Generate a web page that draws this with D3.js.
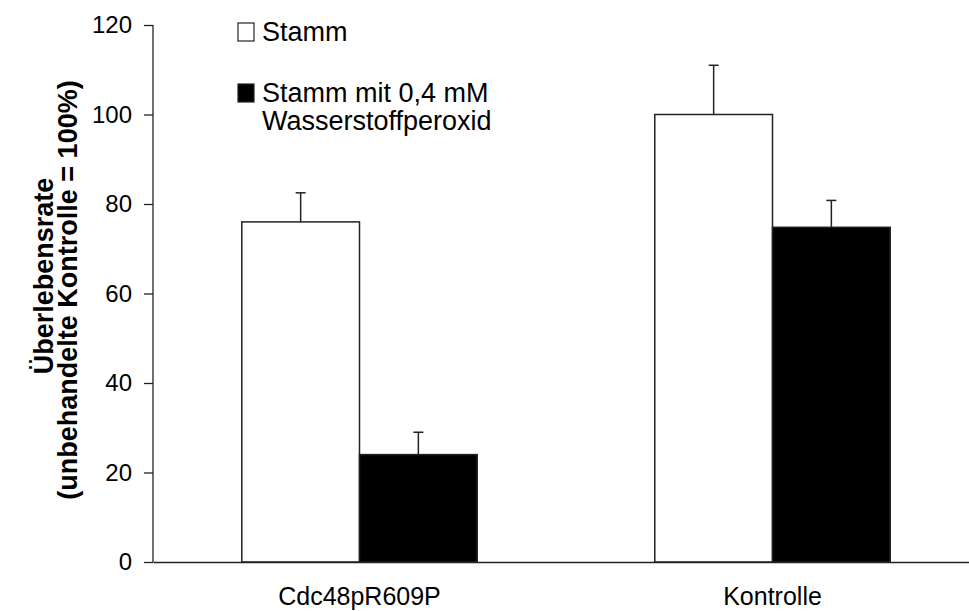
<!DOCTYPE html>
<html>
<head>
<meta charset="utf-8">
<script src="https://cdn.jsdelivr.net/npm/d3@7"></script>
<style>
    body { margin: 0; background: #fff; }
    text { font-family: Arial, "Liberation Sans", sans-serif; fill: #000; }
</style>
</head>
<body>
<div id="chart"></div>
<script>
// Daten
const categories = ["Cdc48pR609P", "Kontrolle"];
const seriesNames = ["Stamm", "Stamm mit 0,4 mM\nWasserstoffperoxid"];
const stammValues = [76, 100];
const stammErrors = [6.5, 11];
const peroxidValues = [24, 74.8];
const peroxidErrors = [5, 6];
const yTicks = [0, 20, 40, 60, 80, 100, 120];

const width = 969;
const height = 611;
const plotLeft = 153, plotTop = 25, plotBottom = 562, plotRight = 979;
const fontStack = "Arial, 'Liberation Sans', sans-serif";

var svg = d3.select("#chart").append("svg")
    .attr("width", width).attr("height", height);

var x = d3.scaleBand().domain(categories).range([plotLeft, plotRight]).padding(0);
var y = d3.scaleLinear().domain([0, 120]).range([plotBottom, plotTop]);

// Balken: Breite ~ 0.285 der Kategorie
var barW = x.bandwidth() * 0.285;

var rows = [];
categories.forEach(function (c, i) {
    rows.push({cat: c, s: 0, v: stammValues[i], e: stammErrors[i]});
    rows.push({cat: c, s: 1, v: peroxidValues[i], e: peroxidErrors[i]});
});

function barX(d) {
    var mid = x(d.cat) + x.bandwidth() / 2;
    return d.s === 0 ? mid - barW : mid;
}

// Fehlerbalken (nur nach oben)
var err = svg.append("g").selectAll(".err").data(rows).enter().append("g");
err.append("line")
    .attr("x1", d => barX(d) + barW / 2).attr("x2", d => barX(d) + barW / 2)
    .attr("y1", d => y(d.v)).attr("y2", d => y(d.v + d.e))
    .attr("stroke", "#222").attr("stroke-width", 1.5);
err.append("line")
    .attr("x1", d => barX(d) + barW / 2 - 5).attr("x2", d => barX(d) + barW / 2 + 5)
    .attr("y1", d => y(d.v + d.e)).attr("y2", d => y(d.v + d.e))
    .attr("stroke", "#222").attr("stroke-width", 1.5);

svg.append("g").selectAll(".bar").data(rows).enter().append("rect")
    .attr("x", d => barX(d))
    .attr("y", d => y(d.v))
    .attr("width", barW)
    .attr("height", d => y(0) - y(d.v))
    .attr("fill", d => d.s === 0 ? "#fff" : "#000")
    .attr("stroke", "#222").attr("stroke-width", 1.5);

// y-Achse
var yAxis = svg.append("g")
    .attr("transform", "translate(" + plotLeft + ",0)")
    .call(d3.axisLeft(y).tickValues(yTicks).tickSize(9).tickPadding(12));
yAxis.select(".domain").attr("stroke", "#222").attr("stroke-width", 1.3).attr("d", "M0," + plotTop + "V" + plotBottom);
yAxis.selectAll(".tick line").attr("stroke", "#222").attr("stroke-width", 1.3);
yAxis.selectAll(".tick text").attr("font-size", 24).attr("font-family", fontStack).attr("fill", "#000");

// x-Achse
var xAxis = svg.append("g")
    .attr("transform", "translate(0," + plotBottom + ")")
    .call(d3.axisBottom(x).tickSize(0).tickPadding(25));
xAxis.select(".domain").attr("stroke", "#222").attr("stroke-width", 1.5);
xAxis.selectAll(".tick text").attr("font-size", 25).attr("font-family", fontStack).attr("fill", "#000");

// Achsentitel (zweizeilig, fett)
svg.append("text")
    .attr("transform", "translate(53,276) rotate(-90)")
    .attr("text-anchor", "middle")
    .attr("font-size", 27).attr("font-weight", "bold")
    .text("Überlebensrate");
svg.append("text")
    .attr("transform", "translate(77,290) rotate(-90)")
    .attr("text-anchor", "middle")
    .attr("font-size", 27).attr("font-weight", "bold")
    .text("(unbehandelte Kontrolle = 100%)");

// Legende
var legend = svg.append("g");
var legY = [23, 84];
seriesNames.forEach(function (name, i) {
    legend.append("rect")
        .attr("x", 238).attr("y", legY[i]).attr("width", 16).attr("height", 18)
        .attr("fill", i === 0 ? "#fff" : "#000")
        .attr("stroke", "#222").attr("stroke-width", 1.2);
    var t = legend.append("text").attr("x", 262).attr("y", legY[i] + 18).attr("font-size", 27);
    name.split("\n").forEach(function (line, j) {
        t.append("tspan").attr("x", 262).attr("dy", j === 0 ? 0 : 28).text(line);
    });
});
</script>
</body>
</html>
